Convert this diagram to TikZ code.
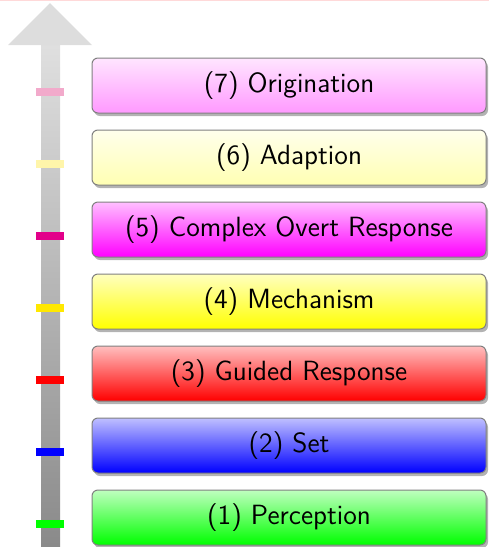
\documentclass[tikz,border=0pt]{standalone}
\usetikzlibrary{shadows}

\definecolor{markpink}{RGB}{242,170,203}
\definecolor{markcream}{RGB}{255,245,170}
\definecolor{markmagenta}{RGB}{226,0,138}
\definecolor{markyellow}{RGB}{255,232,0}
\colorlet{paleyellow}{yellow!30}
\colorlet{palemagenta}{magenta!40}

\tikzset{
  stagebox/.style={draw=gray, line width=0.5pt, rounded corners=3pt,
    minimum width=197pt, minimum height=27.5pt,
    font=\sffamily\fontsize{13.9}{16}\selectfont,
    top color=#1!25, bottom color=#1,
    drop shadow={shadow xshift=1pt, shadow yshift=-1.5pt, fill=gray, opacity=0.6}},
  stagemark/.style={fill=#1, draw=none, inner sep=0pt,
    minimum width=14pt, minimum height=4pt}
}

\begin{document}
\begin{tikzpicture}[x=0.5pt, y=-0.5pt]
    \useasboundingbox (0,0) rectangle (489,547);
    \draw[red!15, line width=0.5pt] (0,0.5) -- (489,0.5);

    % Arrow
    \shade[top color=gray!25, bottom color=gray!92] (41,45) rectangle (60,547);
    \fill[gray!27] (8,45) -- (50,3) -- (92,45) -- cycle;

    % Stages and marks
    \foreach \n/\txt/\col/\mcol in {
        1/Perception/green/green,
        2/Set/blue/blue,
        3/Guided Response/red/red,
        4/Mechanism/yellow/markyellow,
        5/Complex Overt Response/magenta/markmagenta,
        6/Adaption/paleyellow/markcream,
        7/Origination/palemagenta/markpink}
    {
        \node[stagebox=\col] (stage\n) at (289, {589.5-72*\n}) {(\n) \txt};
        \node[stagemark=\mcol] (mark\n) at (50, {596-72*\n}) {};
    }
\end{tikzpicture}
\end{document}
